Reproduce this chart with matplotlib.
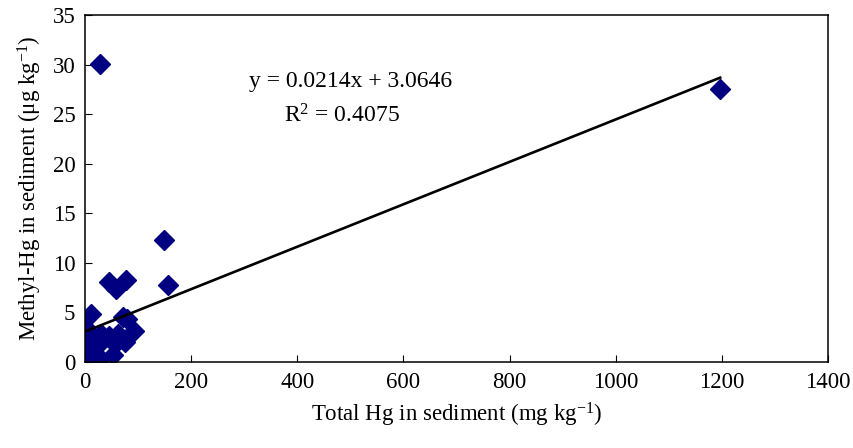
import matplotlib
matplotlib.use("Agg")
import matplotlib.pyplot as plt
import numpy as np

# total Hg (mg/kg) vs methyl-Hg (ug/kg) in sediment
total_hg = [29, 1197, 148, 46, 78, 157, 59,
            12, 0, 72, 80, 93, 62, 46, 30, 12, 3, 56, 75, 22,
            10, 22, 53, 0, 8, 15, 28, 5, 35, 18]
methyl_hg = [30.1, 27.5, 12.3, 8.1, 8.3, 7.8, 7.4,
             4.8, 3.5, 4.5, 4.3, 3.1, 2.8, 2.6, 2.8, 2.8, 2.6, 1.8, 2.0, 1.6,
             1.3, 0.7, 0.7, 0.2, 0.4, 0.2, 0.3, 1.0, 2.4, 2.2]

slope = 0.0214
intercept = 3.0646
r2 = 0.4075

plt.rcParams['font.family'] = ['Liberation Serif', 'DejaVu Serif']
plt.rcParams['mathtext.fontset'] = 'custom'
plt.rcParams['mathtext.rm'] = 'Liberation Serif'
plt.rcParams['mathtext.it'] = 'Liberation Serif:italic'

fig = plt.figure(figsize=(8.54, 4.48), dpi=100)
ax = fig.add_axes([0.0995, 0.192, 0.870, 0.7745])

ax.plot(total_hg, methyl_hg, linestyle='none', marker='D', ms=10.5,
        color='#000080', mec='#000080', zorder=2)

xs = np.array([0, max(total_hg)])
ax.plot(xs, slope * xs + intercept, color='black', lw=1.9, zorder=3)

ax.text(500, 28.3, 'y = %.4fx + %.4f' % (slope, intercept), ha='center', va='center', fontsize=17)
ax.text(484, 24.8, 'R$^2$ = %.4f' % r2, ha='center', va='center', fontsize=17)

ax.set_xlim(0, 1400)
ax.set_ylim(0, 35)
ax.set_xticks(np.arange(0, 1401, 200))
ax.set_yticks(np.arange(0, 36, 5))
ax.tick_params(direction='in', length=5, labelsize=16.5, pad=7)
for s in ax.spines.values():
    s.set_linewidth(1.1)

ax.set_xlabel('Total Hg in sediment (mg kg$^{-1}$)', fontsize=16.5, labelpad=6)
ax.set_ylabel('Methyl-Hg in sediment (\u03bcg kg$^{-1}$)', fontsize=16.5, labelpad=6)

fig.savefig('out.png', dpi=100)
